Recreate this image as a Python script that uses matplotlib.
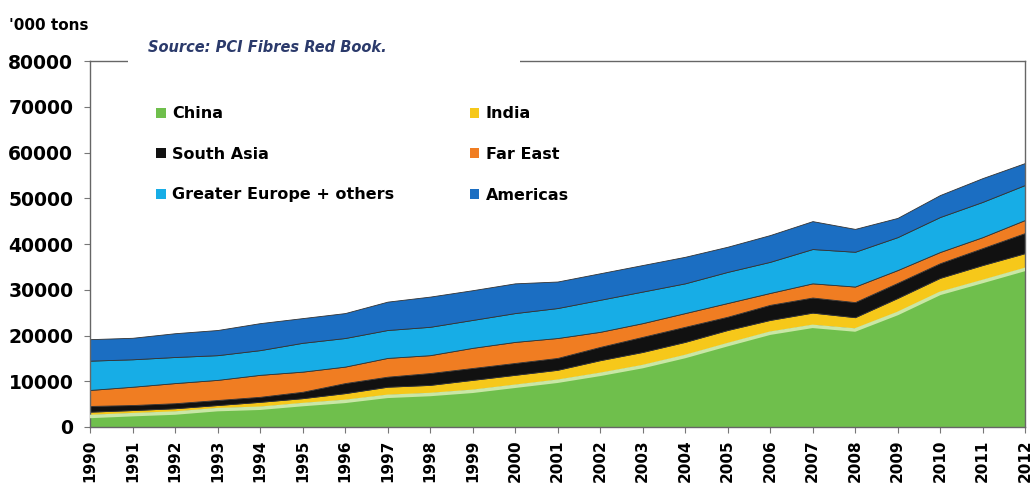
import matplotlib
matplotlib.use("Agg")
import matplotlib.pyplot as plt
from matplotlib.patches import Rectangle
import numpy as np

years = list(range(1990, 2013))
china = [2600, 3000, 3350, 4100, 4400, 5200, 5900, 7000, 7400, 8100, 9200, 10300,
         11800, 13500, 15700, 18300, 20800, 22300, 21500, 25100, 29500, 32100, 34750]
india = [750, 700, 750, 700, 1100, 1100, 1500, 1800, 1800, 2200, 2200, 2200,
         2800, 2900, 2900, 2900, 2600, 2700, 2500, 3100, 3100, 3300, 3250]
south_asia = [1250, 1100, 1100, 1100, 1100, 1400, 2200, 2200, 2600, 2600, 2600, 2600,
              2900, 3300, 3300, 2900, 3300, 3300, 3300, 3300, 3200, 3700, 4400]
far_east = [3500, 4000, 4400, 4400, 4800, 4400, 3600, 4100, 3900, 4400, 4600, 4350,
            3300, 3000, 3000, 3000, 2600, 3100, 3400, 2800, 2450, 2400, 2850]
europe = [6400, 6000, 5700, 5400, 5400, 6300, 6250, 6100, 6200, 6100, 6300, 6550,
          7000, 6900, 6500, 6800, 6800, 7500, 7600, 7200, 7650, 7700, 7650]
americas = [4700, 4700, 5200, 5500, 5900, 5400, 5450, 6200, 6600, 6500, 6500, 5800,
            5800, 5800, 5800, 5500, 5850, 6100, 5000, 4200, 4800, 5200, 4800]

series_names = ["China", "India", "South Asia", "Far East", "Greater Europe + others", "Americas"]
series = [china, india, south_asia, far_east, europe, americas]
colors = ["#6fbf4c", "#f6c81a", "#111111", "#f07d22", "#17ade6", "#1b6ec2"]

y_ticks = [0, 10000, 20000, 30000, 40000, 50000, 60000, 70000, 80000]

W, H = 1031, 491
fig = plt.figure(figsize=(W / 100, H / 100), dpi=100)
ax = fig.add_axes([90 / W, 1 - 427 / H, (1025 - 90) / W, (427 - 61) / H])

x = np.array(years)
base = np.zeros(len(years))
handles = []
for name, vals, c in zip(series_names, series, colors):
    top = base + np.array(vals)
    h = ax.fill_between(x, base, top, facecolor=c, edgecolor="#333333", linewidth=0.6,
                        label=name, zorder=2)
    handles.append(h)
    base = top
# pale highlight on top of China
ax.plot(x, np.array(china) - 300, color="#c9e7a6", lw=2.5, zorder=3)

ax.set_xlim(1990, 2012)
ax.set_ylim(0, 80000)
ax.set_yticks(y_ticks)
ax.set_yticklabels([str(v) for v in y_ticks], fontsize=13.5, fontweight="bold")
ax.set_xticks(years)
ax.set_xticklabels([str(y) for y in years], rotation=90, fontsize=11, fontweight="bold")
ax.tick_params(axis="both", direction="out", length=4, color="#777777", width=0.8)
ax.tick_params(axis="y", pad=8)
ax.tick_params(axis="x", pad=5)
for s in ax.spines.values():
    s.set_color("#666666")
    s.set_linewidth(1.0)

# white gap in top spine behind the source note
fig.add_artist(Rectangle((128 / W, 1 - 70 / H), (520 - 128) / W, 20 / H,
                         transform=fig.transFigure, facecolor="white", edgecolor="none",
                         zorder=5))
fig.text(148 / W, 1 - 48 / H, "Source: PCI Fibres Red Book.", fontsize=10.5,
         fontstyle="italic", fontweight="bold", color="#2b3a6b", va="center", ha="left",
         zorder=6)
fig.text(9 / W, 1 - 25 / H, "'000 tons", fontsize=11, fontweight="bold", va="center",
         ha="left")

# legend is filled column by column; order so rows read China/India, South Asia/Far East, ...
order = [0, 2, 4, 1, 3, 5]
leg = ax.legend(handles=[handles[i] for i in order], labels=[series_names[i] for i in order],
                ncol=2, frameon=False, loc="upper left",
                bbox_to_anchor=((150 - 90) / (1025 - 90), 1 - (100 - 61) / (427 - 61)),
                prop={"size": 11.5, "weight": "bold"}, handlelength=0.6, handleheight=0.6,
                handletextpad=0.4, labelspacing=1.6, columnspacing=4.7, borderaxespad=0)
for h in leg.legend_handles:
    h.set_edgecolor("none")

fig.savefig("out.png", dpi=100)
